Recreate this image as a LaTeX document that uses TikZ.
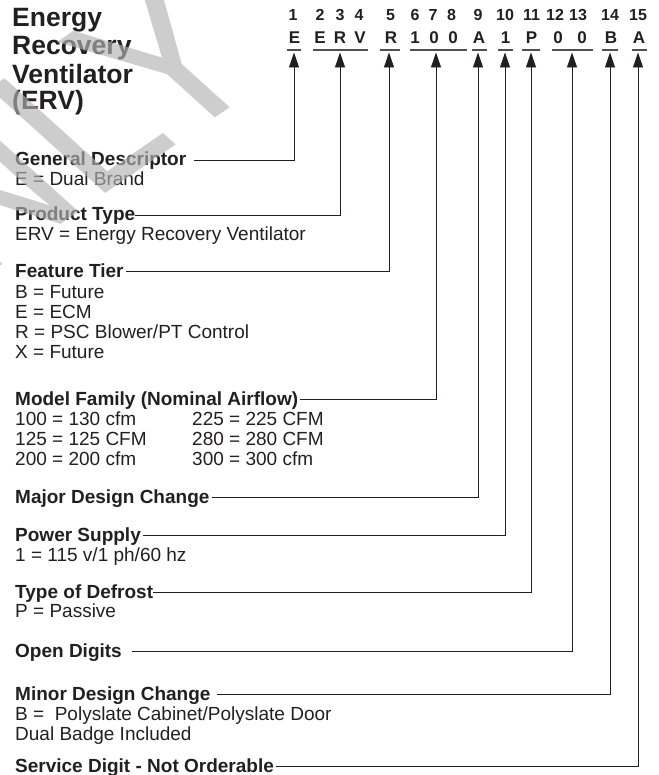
\documentclass[tikz,border=0pt]{standalone}
\usepackage{fontspec}
\setmainfont{Liberation Sans}
\usetikzlibrary{arrows.meta}
\definecolor{schwarz}{RGB}{35,31,32}
\definecolor{strichgrau}{RGB}{80,80,80}
\definecolor{wasserzeichen}{RGB}{178,178,178}

\tikzset{
  titel/.style={anchor=base west, inner sep=0pt, text=schwarz, font=\bfseries\fontsize{26.5}{28}\selectfont},
  stelle/.style={anchor=base, inner sep=0pt, text=schwarz, font=\bfseries\fontsize{16}{17}\selectfont},
  zeichen/.style={anchor=base, inner sep=0pt, text=schwarz, font=\bfseries\fontsize{17}{18}\selectfont},
  kopf/.style={anchor=base west, inner xsep=2pt, inner ysep=0pt, text height=12pt, text depth=0pt, text=schwarz, font=\bfseries\fontsize{19}{20}\selectfont},
  eintrag/.style={anchor=base west, inner sep=0pt, text=schwarz, font=\fontsize{19}{20}\selectfont},
  strich/.style={strichgrau, line width=1.1pt},
  linie/.style={schwarz, line width=0.9pt, -{Triangle[length=15pt,width=10pt]}}
}

\begin{document}
\begin{tikzpicture}[x=1pt, y=-1pt]
        \useasboundingbox (0,0) rectangle (658,775);

        % Titel
        \node[titel] (t1) at (12,26.7) {Energy};
        \node[titel] (t2) at (12,55) {Recovery};
        \node[titel] (t3) at (12,83.3) {Ventilator};
        \node[titel] (t4) at (12,110) {(ERV)};

        % Stellennummern
        \node[stelle] (n1) at (293,20.7) {1};
        \node[stelle] (n2) at (320,20.7) {2};
        \node[stelle] (n3) at (340,20.7) {3};
        \node[stelle] (n4) at (359,20.7) {4};
        \node[stelle] (n5) at (390.5,20.7) {5};
        \node[stelle] (n6) at (415,20.7) {6};
        \node[stelle] (n7) at (433,20.7) {7};
        \node[stelle] (n8) at (451.5,20.7) {8};
        \node[stelle] (n9) at (478,20.7) {9};
        \node[stelle] (n10) at (505,20.7) {10};
        \node[stelle] (n11) at (531.5,20.7) {11};
        \node[stelle] (n12) at (555,20.7) {12};
        \node[stelle] (n13) at (578,20.7) {13};
        \node[stelle] (n14) at (610,20.7) {14};
        \node[stelle] (n15) at (638,20.7) {15};

        % Modellnummer
        \node[zeichen] (c1) at (294.5,43.3) {E};
        \node[zeichen] (c2) at (320,43.3) {E};
        \node[zeichen] (c3) at (340,43.3) {R};
        \node[zeichen] (c4) at (360,43.3) {V};
        \node[zeichen] (c5) at (391,43.3) {R};
        \node[zeichen] (c6) at (415,43.3) {1};
        \node[zeichen] (c7) at (434,43.3) {0};
        \node[zeichen] (c8) at (453,43.3) {0};
        \node[zeichen] (c9) at (479,43.3) {A};
        \node[zeichen] (c10) at (505.5,43.3) {1};
        \node[zeichen] (c11) at (531.5,43.3) {P};
        \node[zeichen] (c12) at (558,43.3) {0};
        \node[zeichen] (c13) at (582,43.3) {0};
        \node[zeichen] (c14) at (611,43.3) {B};
        \node[zeichen] (c15) at (639,43.3) {A};

        % Unterstriche
        \draw[strich] (287,50) -- (301,50);
        \draw[strich] (313,50) -- (368,50);
        \draw[strich] (380,50) -- (400,50);
        \draw[strich] (410,50) -- (467,50);
        \draw[strich] (472,50) -- (487,50);
        \draw[strich] (498,50) -- (513,50);
        \draw[strich] (522,50) -- (540,50);
        \draw[strich] (552,50) -- (593,50);
        \draw[strich] (602,50) -- (618,50);
        \draw[strich] (632,50) -- (647,50);

        % Pfeilspitzen unter den Unterstrichen
        \coordinate (p1) at (294,52.5);
        \coordinate (p2) at (340,52.5);
        \coordinate (p3) at (389,52.5);
        \coordinate (p4) at (436,52.5);
        \coordinate (p5) at (478,52.5);
        \coordinate (p6) at (505,52.5);
        \coordinate (p7) at (531,52.5);
        \coordinate (p8) at (572,52.5);
        \coordinate (p9) at (610,52.5);
        \coordinate (p10) at (638,52.5);

        % Beschreibungen
        \node[kopf] (gd) at (13,166) {General Descriptor};
        \node[eintrag] (gd1) at (15,186) {E = Dual Brand};

        \node[kopf] (pt) at (13,221) {Product Type};
        \node[eintrag] (pt1) at (15,241) {ERV = Energy Recovery Ventilator};

        \node[kopf] (ft) at (13,277) {Feature Tier};
        \node[eintrag] (ft1) at (15,298) {B = Future};
        \node[eintrag] (ft2) at (15,318) {E = ECM};
        \node[eintrag] (ft3) at (15,338) {R = PSC Blower/PT Control};
        \node[eintrag] (ft4) at (15,358) {X = Future};

        \node[kopf] (mf) at (13,405) {Model Family (Nominal Airflow)};
        \node[eintrag] (mf1) at (15,425) {100 = 130 cfm};
        \node[eintrag] (mf2) at (15,445) {125 = 125 CFM};
        \node[eintrag] (mf3) at (15,465) {200 = 200 cfm};
        \node[eintrag] (mf4) at (192,425) {225 = 225 CFM};
        \node[eintrag] (mf5) at (192,445) {280 = 280 CFM};
        \node[eintrag] (mf6) at (192,465) {300 = 300 cfm};

        \node[kopf] (md) at (13,503) {Major Design Change};

        \node[kopf] (ps) at (13,541.5) {Power Supply};
        \node[eintrag] (ps1) at (15,561.5) {1 = 115 v/1 ph/60 hz};

        \node[kopf] (td) at (13,598) {Type of Defrost};
        \node[eintrag] (td1) at (15,617) {P = Passive};

        \node[kopf] (od) at (13,657) {Open Digits};

        \node[kopf] (nd) at (13,700) {Minor Design Change};
        \node[eintrag] (nd1) at (15,720) {B =\ \ Polyslate Cabinet/Polyslate Door};
        \node[eintrag] (nd2) at (15,740) {Dual Badge Included};

        \node[kopf] (sd) at (13,772) {Service Digit - Not Orderable};

        % Verbindungen
        \draw[linie] ([xshift=6pt]gd.east) -| (p1);
        \draw[linie] ([xshift=-2pt]pt.east) -| (p2);
        \draw[linie] (ft.east) -| (p3);
        \draw[linie] (mf.east) -| (p4);
        \draw[linie] (md.east) -| (p5);
        \draw[linie] (ps.east) -| (p6);
        \draw[linie] ([xshift=-2pt]td.east) -| (p7);
        \draw[linie] ([xshift=8pt]od.east) -| (p8);
        \draw[linie] ([xshift=4pt]nd.east) -| (p9);
        \draw[linie] (sd.east) -| (p10);

        % Wasserzeichen (schraeg verzerrt)
        \node[anchor=base west, inner sep=0pt, cm={1.60,1.10,-1.68,1.52,(0,0)}, text=wasserzeichen, text opacity=0.65,
              font=\fontsize{100}{100}\selectfont] (wz) at (-147.8,367.8) {ONLY};
\end{tikzpicture}
\end{document}
